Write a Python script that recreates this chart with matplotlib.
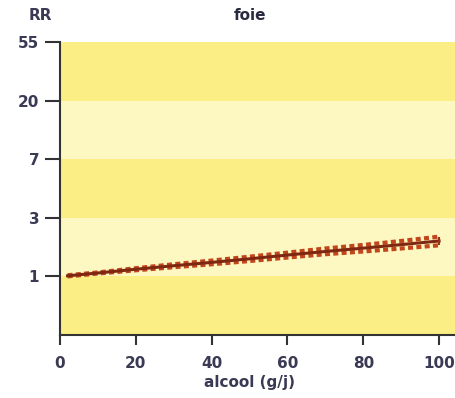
import numpy as np
import matplotlib
matplotlib.use('Agg')
from matplotlib import pyplot as plt

# relative risk of liver disease vs daily alcohol intake
alcool = [2, 10, 20, 30, 40, 50, 60, 70, 80, 90, 100]
rr = [1.01, 1.06, 1.13, 1.20, 1.27, 1.35, 1.44, 1.53, 1.62, 1.72, 1.83]
rr_low = [1.00, 1.05, 1.11, 1.17, 1.23, 1.30, 1.38, 1.46, 1.53, 1.61, 1.70]
rr_high = [1.02, 1.07, 1.15, 1.23, 1.31, 1.40, 1.50, 1.61, 1.71, 1.83, 1.97]

y_ticks = np.exp(np.arange(5))
y_labels = ['1', '3', '7', '20', '55']
x_ticks = [0, 20, 40, 60, 80, 100]

text_col = '#3a3a55'
dark_band = '#fbee84'
light_band = '#fdf7c2'


def main():
    plt.rcParams['font.family'] = ['DejaVu Sans']
    plt.rcParams['font.weight'] = 'bold'

    fig = plt.figure(figsize=(4.56, 3.98), dpi=100)
    ax = fig.add_axes([60 / 456, 63 / 398, 395 / 456, 293 / 398])
    ax.set_yscale('log')
    ax.set_xlim(0, 104.2)
    ax.set_ylim(np.exp(-1), np.exp(4))

    # alternating bands between the ticks
    for k in range(-1, 4):
        col = dark_band if k % 2 else light_band
        ax.axhspan(np.exp(k), np.exp(k + 1), color=col, lw=0, zorder=0)

    ax.plot(alcool, rr_low, ls=(0, (1.2, 0.8)), lw=3.0, color='#c2461b', zorder=2,
            solid_capstyle='butt')
    ax.plot(alcool, rr_high, ls=(0, (1.2, 0.8)), lw=3.0, color='#c2461b', zorder=2,
            solid_capstyle='butt')
    ax.plot(alcool, rr, lw=2.2, color='#7e2812', zorder=3)
    ax.vlines(alcool[-1], rr_low[-1], rr_high[-1], color='#9a3214', lw=1.5, zorder=3)

    ax.set_yticks(y_ticks)
    ax.set_yticklabels(y_labels)
    ax.minorticks_off()
    ax.set_xticks(x_ticks)

    for s in ['top', 'right']:
        ax.spines[s].set_visible(False)
    for s in ['left', 'bottom']:
        ax.spines[s].set_color('#333333')
        ax.spines[s].set_linewidth(1.5)
    ax.tick_params(axis='y', length=11, width=1.5, color='#333333', pad=4,
                   labelsize=11, labelcolor=text_col)
    ax.tick_params(axis='x', length=7, width=1.5, color='#333333', pad=8,
                   labelsize=11, labelcolor=text_col)

    ax.set_xlabel('alcool (g/j)', fontsize=11, color=text_col, fontweight='bold')
    ax.xaxis.set_label_coords(0.48, -0.135)
    fig.text(40 / 456, 1 - 15 / 398, 'RR', ha='center', va='center', fontsize=11,
             color=text_col, fontweight='bold')
    fig.text(250 / 456, 1 - 15 / 398, 'foie', ha='center', va='center', fontsize=11,
             color='#2a2a40', fontweight='bold')

    fig.savefig('out.png', dpi=100)


if __name__ == '__main__':
    main()
